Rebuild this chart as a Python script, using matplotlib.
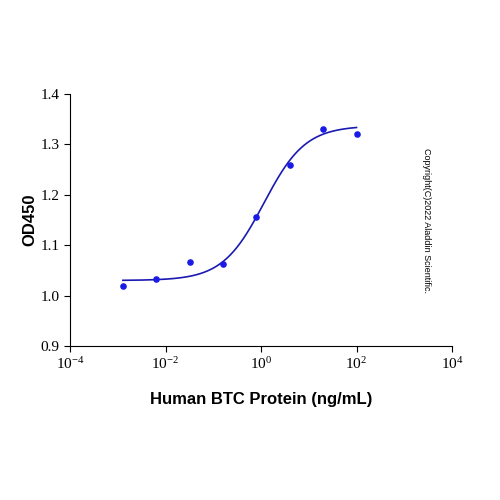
import matplotlib
matplotlib.use('Agg')
import matplotlib.pyplot as plt
import numpy as np

plt.rcParams['mathtext.fontset'] = 'custom'
plt.rcParams['mathtext.rm'] = 'Liberation Serif'
plt.rcParams['mathtext.it'] = 'Liberation Serif'

# data
conc = [0.00128, 0.0064, 0.032, 0.16, 0.8, 4, 20, 100]
od450 = [1.019, 1.032, 1.066, 1.063, 1.156, 1.260, 1.331, 1.321]

# 4PL fit parameters (estimated)
bottom, top, ec50, hill = 1.030, 1.337, 1.15, 1.0

fig = plt.figure(figsize=(5, 5), dpi=100)
ax = fig.add_axes([0.14, 0.308, 0.764, 0.504])

xs = np.logspace(np.log10(conc[0]), np.log10(conc[-1]), 300)
ys = bottom + (top - bottom) / (1 + (ec50 / xs) ** hill)
ax.plot(xs, ys, color='#1a1ab3', lw=1.2)
ax.scatter(conc, od450, color='#1a1ae6', s=14, zorder=3)

ax.set_xscale('log')
ax.set_xlim(1e-4, 1e4)
ax.set_ylim(0.9, 1.4)
ax.set_xticks([1e-4, 1e-2, 1e0, 1e2, 1e4])
ax.minorticks_off()
ax.set_yticks([0.9, 1.0, 1.1, 1.2, 1.3, 1.4])
ax.set_yticklabels(['0.9', '1.0', '1.1', '1.2', '1.3', '1.4'])
for lab in ax.get_xticklabels() + ax.get_yticklabels():
    lab.set_family('Liberation Serif')
    lab.set_fontsize(11)
ax.spines['top'].set_visible(False)
ax.spines['right'].set_visible(False)
ax.tick_params(direction='out', length=4)

ax.set_xlabel('Human BTC Protein (ng/mL)', family='Liberation Sans',
              fontweight='bold', fontsize=12, labelpad=14)
ax.set_ylabel('OD450', family='Liberation Sans', fontweight='bold',
              fontsize=12, labelpad=2)

fig.text(0.852, 0.56, 'Copyright(C)2022 Aladdin Scientific.', rotation=-90,
         family='Liberation Sans', fontsize=6.5, ha='center', va='center')

fig.savefig('out.png', dpi=100)
